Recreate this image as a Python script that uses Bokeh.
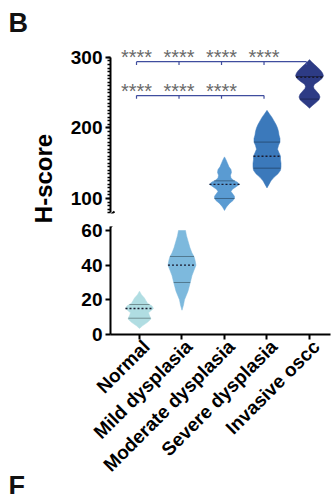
import numpy as np
from bokeh.plotting import figure
from bokeh.models import Range1d, FixedTicker, ColumnDataSource, Arrow, Label, LinearAxis
from bokeh.layouts import row, column
from bokeh.core.properties import value
from bokeh.embed import file_html
from bokeh.resources import INLINE

# ---------------- data ----------------
groups = ["Normal", "Mild dysplasia", "Moderate dysplasia", "Severe dysplasia", "Invasive oscc"]
colors = ["#b0dde2", "#7db9dd", "#5a9bd2", "#3b79bb", "#2d3b85"]
medians = [15, 40, 120, 160, 272]
q1 = [9.4, 30, 100, 143, 241]
q3 = [17.3, 45, 125, 180, 273]

# violin outlines: H-score levels and (relative) density half-widths
normal_y = [3.5, 5, 7, 9, 11, 12.5, 14, 15, 16.5, 18, 19.5, 21, 23, 25]
normal_d = [0, 3, 8, 11.5, 10, 9, 12, 14, 12.5, 8, 6.5, 5, 2, 0]
mild_y = [14, 17, 20, 25, 30, 34, 37, 40, 43, 45, 47, 50, 54, 57, 60]
mild_d = [0, 1.5, 2.5, 6, 8.3, 10, 12, 14, 13, 12, 10, 8, 6, 4.5, 3.5]
moderate_y = [83, 88, 93, 97, 100, 103, 107, 110, 113, 117, 120, 123, 126, 129, 133, 137, 141, 145, 150, 155, 159]
moderate_d = [0, 2, 5, 8.5, 10, 10, 8, 6.5, 8, 12, 15, 13, 9, 6.5, 6, 7, 6.5, 4.5, 3, 1.5, 0]
severe_y = [115, 120, 125, 130, 135, 140, 145, 150, 155, 160, 165, 170, 175, 180, 185, 190, 195, 200, 205, 210, 215, 220, 225]
severe_d = [0, 2, 4, 7, 11, 13.5, 14, 14, 13.5, 13.5, 12, 10.5, 11.5, 13, 13, 12, 11.5, 10.5, 9, 7, 5, 2.5, 0]
invasive_y = [228, 232, 236, 240, 244, 248, 252, 256, 259, 262, 266, 270, 274, 278, 282, 286, 290, 294, 297]
invasive_d = [0, 3, 6.5, 9.5, 10.5, 9.5, 7, 4.5, 4, 5, 9, 12.5, 14, 13, 11, 8, 5, 2, 0]

profiles_y = [normal_y, mild_y, moderate_y, severe_y, invasive_y]
profiles_d = [normal_d, mild_d, moderate_d, severe_d, invasive_d]

# significance brackets (group indices) and their heights
bracket1_groups = [0, 1, 2, 3, 4]
bracket1_y = 294
bracket2_groups = [0, 1, 2, 3]
bracket2_y = 246
stars1_groups = [0, 1, 2, 3]
stars1_y = 300.5
stars2_groups = [0, 1, 2]
stars2_y = 252.3
star_label = "****"

upper_ticks = [100, 200, 300]
lower_ticks = [0, 20, 40, 60]

# ---------------- styling helpers ----------------
FONT = "Liberation Sans"
DSCALE = 1 / 42.5      # density -> x units
SHIFT = -0.07          # bracket / star horizontal offset
LABEL_SHIFT = 0.16     # x tick labels sit a little right of their ticks
BRACKET_COLOR = "#3f4d9e"

xr = Range1d(-0.682, 4.494)


def violin_sources():
    xs, ys, fills = [], [], []
    segs = dict(x0=[], x1=[], y=[])
    meds = dict(x0=[], x1=[], y=[])
    for i in range(len(groups)):
        y = np.array(profiles_y[i], dtype=float)
        d = np.array(profiles_d[i], dtype=float) * DSCALE
        xs.append(list(i + d) + list((i - d)[::-1]))
        ys.append(list(y) + list(y[::-1]))
        fills.append(colors[i])
        for q in (q1[i], q3[i]):
            w = np.interp(q, y, d)
            segs["x0"].append(i - w); segs["x1"].append(i + w); segs["y"].append(q)
        w = np.interp(medians[i], y, d)
        meds["x0"].append(i - w); meds["x1"].append(i + w); meds["y"].append(medians[i])
    return (ColumnDataSource(dict(xs=xs, ys=ys, fill=fills)),
            ColumnDataSource(segs), ColumnDataSource(meds))


def draw_violins(p):
    vs, qs, ms = violin_sources()
    p.patches("xs", "ys", source=vs, fill_color="fill", line_color="fill", line_width=0.5)
    p.segment(x0="x0", y0="y", x1="x1", y1="y", source=qs, line_color="black", line_alpha=0.35, line_width=1)
    p.segment(x0="x0", y0="y", x1="x1", y1="y", source=ms, line_color="#1a1a2e", line_width=1.4, line_dash="2 2")


def style_axis(ax):
    ax.axis_line_width = 2
    ax.axis_line_color = "black"
    ax.major_tick_line_width = 2
    ax.major_tick_in = 0
    ax.major_tick_out = 5
    ax.minor_tick_in = 0
    ax.minor_tick_out = 3
    ax.minor_tick_line_width = 1.5
    ax.major_label_text_font = FONT
    ax.major_label_text_font_style = "bold"
    ax.major_label_text_color = "black"
    ax.major_label_standoff = 3


def base_fig(**kw):
    p = figure(output_backend="svg", toolbar_location=None, x_range=xr,
               min_border_left=46, min_border_right=6, **kw)
    p.grid.visible = False
    p.outline_line_color = None
    p.background_fill_color = "white"
    p.border_fill_color = "white"
    return p


# ---------------- upper panel (80-300) ----------------
up = base_fig(width=272, height=220, y_range=Range1d(78.7, 318.4),
              min_border_top=44, min_border_bottom=7, x_axis_location=None)
draw_violins(up)
style_axis(up.yaxis[0])
up.yaxis.ticker = FixedTicker(ticks=upper_ticks, minor_ticks=list(range(80, 301, 5)))
up.yaxis.bounds = (80, 300)
up.yaxis.major_label_text_font_size = "19px"

for gl, by in ((bracket1_groups, bracket1_y), (bracket2_groups, bracket2_y)):
    bx = [g + SHIFT for g in gl]
    up.line(x=[bx[0], bx[-1]], y=[by, by], line_color=BRACKET_COLOR, line_width=1.2)
    up.segment(x0=bx, y0=[by] * len(bx), x1=bx, y1=[by - 4.5] * len(bx),
               line_color=BRACKET_COLOR, line_width=1.2)

for gl, sy in ((stars1_groups, stars1_y), (stars2_groups, stars2_y)):
    up.text(x=[g + SHIFT for g in gl], y=[sy] * len(gl), text=[star_label] * len(gl),
            text_font=value(FONT), text_font_size="20px", text_color="#6a6a6a",
            text_align="center", text_baseline="alphabetic")

up.add_layout(Arrow(end=None, x_start=-0.776, y_start=71.6, x_end=-0.588, y_end=81.6,
                    line_width=2, line_color="black"))
# neighbouring panel letter, cut by the right edge
up.add_layout(Label(x=4.447, y=349.6, text="C", text_font=FONT, text_font_style="bold",
                    text_font_size="27px", text_align="left", text_baseline="middle",
                    text_color="#111111"))

# ---------------- lower panel (0-60) ----------------
low = base_fig(width=272, height=274, y_range=Range1d(0, 62.3),
               min_border_top=6, min_border_bottom=160)
draw_violins(low)
style_axis(low.yaxis[0])
style_axis(low.xaxis[0])
low.yaxis.ticker = FixedTicker(ticks=lower_ticks, minor_ticks=[])
low.yaxis.major_label_text_font_size = "19px"
# axis line with tick marks at each group (drawn as long minor ticks, no labels)
low.xaxis.ticker = FixedTicker(ticks=[], minor_ticks=list(range(len(groups))))
low.xaxis.minor_tick_out = 5
low.xaxis.minor_tick_line_width = 2
low.xaxis.major_label_standoff = 0

label_ticks = [i + LABEL_SHIFT for i in range(len(groups))]
lab_axis = LinearAxis(ticker=FixedTicker(ticks=label_ticks, minor_ticks=[]))
lab_axis.axis_line_color = None
lab_axis.major_tick_line_color = None
lab_axis.minor_tick_line_color = None
lab_axis.major_tick_out = 0
lab_axis.major_tick_in = 0
lab_axis.major_label_standoff = 4
lab_axis.major_label_overrides = {t: g for t, g in zip(label_ticks, groups)}
lab_axis.major_label_orientation = np.pi / 4
lab_axis.major_label_text_font = FONT
lab_axis.major_label_text_font_style = "bold"
lab_axis.major_label_text_font_size = "19px"
lab_axis.major_label_text_color = "black"
low.add_layout(lab_axis, "below")

low.add_layout(Arrow(end=None, x_start=-0.776, y_start=60.0, x_end=-0.588, y_end=64.0,
                     line_width=2, line_color="black"))

# ---------------- left strip with axis title and panel letters ----------------
lf = figure(width=64, height=494, x_range=Range1d(0, 64), y_range=Range1d(494, 0),
            output_backend="svg", toolbar_location=None, min_border=0,
            x_axis_location=None, y_axis_location=None)
lf.grid.visible = False
lf.outline_line_color = None
lf.text(x=[8, 8], y=[22, 485], text=["B", "F"], text_font=value(FONT), text_font_style="bold",
        text_font_size="27px", text_align="left", text_baseline="middle", text_color="#111111")
lf.text(x=[43], y=[178], text=["H-score"], text_font=value(FONT), text_font_style="bold",
        text_font_size="24px", text_align="center", text_baseline="middle",
        angle=np.pi / 2, text_color="black")

layout = row(lf, column(up, low))
open("out.html", "w").write(file_html(layout, INLINE))
